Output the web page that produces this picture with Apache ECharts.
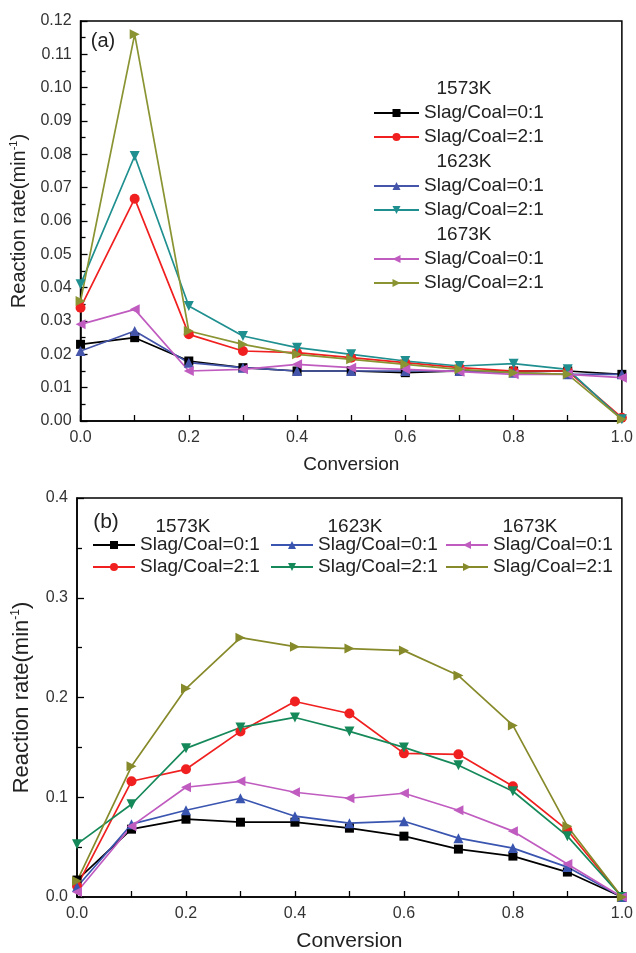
<!DOCTYPE html>
<html><head><meta charset="utf-8">
<script src="https://cdn.jsdelivr.net/npm/echarts@6/dist/echarts.min.js"></script>
<style>html,body{margin:0;padding:0;background:#fff}#c{width:636px;height:953px}</style>
</head><body><div id="c"></div>
<script>
// ---- data ----
const conversion = [0, 0.1, 0.2, 0.3, 0.4, 0.5, 0.6, 0.7, 0.8, 0.9, 1.0];
const temps = ['1573K', '1623K', '1673K'];
const ratios = ['Slag/Coal=0:1', 'Slag/Coal=2:1'];
// panel (a)
const a1573_01 = [0.023, 0.025, 0.018, 0.016, 0.015, 0.015, 0.0145, 0.015, 0.015, 0.015, 0.014];
const a1573_21 = [0.034, 0.0667, 0.026, 0.021, 0.0205, 0.019, 0.0175, 0.016, 0.015, 0.015, 0.001];
const a1623_01 = [0.021, 0.027, 0.0175, 0.016, 0.015, 0.015, 0.015, 0.015, 0.0145, 0.014, 0.014];
const a1623_21 = [0.041, 0.0795, 0.0345, 0.0255, 0.022, 0.020, 0.018, 0.0165, 0.0172, 0.0155, 0.0005];
const a1673_01 = [0.029, 0.0335, 0.015, 0.0155, 0.017, 0.016, 0.0155, 0.0148, 0.014, 0.014, 0.013];
const a1673_21 = [0.036, 0.116, 0.027, 0.023, 0.020, 0.0185, 0.017, 0.0155, 0.0145, 0.014, 0.0005];
// panel (b)
const b1573_01 = [0.017, 0.068, 0.078, 0.075, 0.075, 0.069, 0.061, 0.048, 0.041, 0.025, 0.0];
const b1573_21 = [0.011, 0.116, 0.128, 0.166, 0.196, 0.184, 0.144, 0.143, 0.111, 0.067, 0.0];
const b1623_01 = [0.010, 0.073, 0.087, 0.099, 0.081, 0.074, 0.076, 0.059, 0.049, 0.030, 0.0];
const b1623_21 = [0.053, 0.093, 0.149, 0.170, 0.180, 0.166, 0.150, 0.132, 0.106, 0.061, 0.0];
const b1673_01 = [0.005, 0.071, 0.110, 0.116, 0.105, 0.099, 0.104, 0.087, 0.066, 0.033, 0.0];
const b1673_21 = [0.016, 0.131, 0.209, 0.260, 0.251, 0.249, 0.247, 0.222, 0.172, 0.071, 0.0];

// ---- styles ----
const colorsA = ['#000000', '#f02020', '#4455aa', '#1f8f8f', '#c05cc0', '#8a9432'];
const colorsB = ['#000000', '#f02020', '#3a55b0', '#16895a', '#c05cc0', '#878a2a'];
const symbols = ['rect', 'circle', 'triangle', 'triangle', 'triangle', 'triangle'];
const rots = [0, 0, 0, 180, 90, -90];
const sizes = [9, 10, 10, 10, 10, 10];
const seriesA = [a1573_01, a1573_21, a1623_01, a1623_21, a1673_01, a1673_21];
const seriesB = [b1573_01, b1573_21, b1623_01, b1623_21, b1673_01, b1673_21];

function nm(panel, i) { return panel + ' ' + temps[Math.floor(i / 2)] + ' ' + ratios[i % 2]; }

const series = [];
seriesA.forEach((d, i) => series.push({
  name: nm('a', i), type: 'line', xAxisIndex: 0, yAxisIndex: 0,
  data: conversion.map((x, k) => [x, d[k]]),
  symbol: symbols[i], symbolRotate: rots[i], symbolSize: sizes[i],
  lineStyle: { width: 1.7, color: colorsA[i] }, itemStyle: { color: colorsA[i] },
  animation: false
}));
seriesB.forEach((d, i) => series.push({
  name: nm('b', i), type: 'line', xAxisIndex: 1, yAxisIndex: 1,
  data: conversion.map((x, k) => [x, d[k]]),
  symbol: symbols[i], symbolRotate: rots[i], symbolSize: sizes[i],
  lineStyle: { width: 1.7, color: colorsB[i] }, itemStyle: { color: colorsB[i] },
  animation: false
}));

const ff = 'Liberation Sans';
const legendFmt = n => n.split(' ').slice(2).join(' ');
const legends = [];
const aCenters = [113, 137, 186, 210, 259, 283];
for (let i = 0; i < 6; i++) legends.push({
  data: [nm('a', i)], left: 373, top: aCenters[i] - 10, orient: 'vertical', padding: 0,
  itemWidth: 45, itemHeight: 10, formatter: legendFmt, selectedMode: false,
  textStyle: { fontSize: 19, lineHeight: 20, color: '#222', fontFamily: ff }
});
const bLeft = [92, 270, 445], bRows = [545, 567];
for (let i = 0; i < 6; i++) legends.push({
  data: [nm('b', i)], left: bLeft[Math.floor(i / 2)], top: bRows[i % 2] - 10, orient: 'vertical', padding: 0,
  itemWidth: 42, itemHeight: 10, formatter: legendFmt, selectedMode: false,
  textStyle: { fontSize: 19, lineHeight: 20, color: '#222', fontFamily: ff }
});

function txt(t, x, y, size) {
  return { type: 'text', x: x, y: y, style: { text: t, fontSize: size, fontFamily: ff, fill: '#222', align: 'center', verticalAlign: 'middle' } };
}
const graphics = [
  txt('(a)', 103, 41, 20), txt('(b)', 106, 522, 21),
  txt(temps[0], 464, 89, 19), txt(temps[1], 464, 162, 19), txt(temps[2], 464, 235, 19),
  txt(temps[0], 183, 527, 19), txt(temps[1], 355, 527, 19), txt(temps[2], 530, 527, 19)
];

function xAx(gi, nameSize, nameGap) {
  return {
    type: 'value', gridIndex: gi, min: 0, max: 1, interval: 0.2,
    name: 'Conversion', nameLocation: 'middle', nameGap: nameGap,
    nameTextStyle: { fontSize: nameSize, color: '#222', fontFamily: ff },
    axisLine: { show: true, lineStyle: { color: '#000', width: 1.5 } },
    axisTick: { show: true, inside: true, length: 6, lineStyle: { color: '#000', width: 1.3 } },
    minorTick: { show: true, splitNumber: 2, length: 6, lineStyle: { color: '#000', width: 1.3 } },
    axisLabel: { fontSize: 16, color: '#333', fontFamily: ff, margin: 9, formatter: v => v.toFixed(1) },
    splitLine: { show: false }
  };
}
function yAx(gi, max, interval, dec, nameSize, nameGap) {
  return {
    type: 'value', gridIndex: gi, min: 0, max: max, interval: interval,
    name: '{a|Reaction rate(min}{s|-1}{a|)}', nameLocation: 'middle', nameGap: nameGap, nameRotate: 90,
    nameTextStyle: { rich: {
      a: { fontSize: nameSize, color: '#222', fontFamily: ff },
      s: { fontSize: Math.round(nameSize * 0.55), color: '#222', fontFamily: ff, padding: [0, 0, nameSize * 0.6, 0] }
    } },
    axisLine: { show: true, lineStyle: { color: '#000', width: 1.5 } },
    axisTick: { show: true, inside: true, length: 7, lineStyle: { color: '#000', width: 1.3 } },
    minorTick: { show: true, splitNumber: 2, length: 5, lineStyle: { color: '#000', width: 1.3 } },
    axisLabel: { fontSize: 16, color: '#333', fontFamily: ff, margin: 9, formatter: v => v.toFixed(dec) },
    splitLine: { show: false }
  };
}

const chart = echarts.init(document.getElementById('c'), null, { renderer: 'canvas' });
chart.setOption({
  backgroundColor: '#fff',
  animation: false,
  grid: [
    { left: 80, top: 21, width: 544, height: 400, show: true, borderColor: '#000', borderWidth: 1.5, backgroundColor: 'transparent' },
    { left: 77, top: 498, width: 547, height: 399, show: true, borderColor: '#000', borderWidth: 1.5, backgroundColor: 'transparent' }
  ],
  xAxis: [xAx(0, 19, 34), xAx(1, 21, 34)],
  yAxis: [yAx(0, 0.12, 0.01, 2, 20, 46), yAx(1, 0.4, 0.1, 1, 22, 42)],
  legend: legends,
  graphic: graphics,
  series: series
});
</script></body></html>
